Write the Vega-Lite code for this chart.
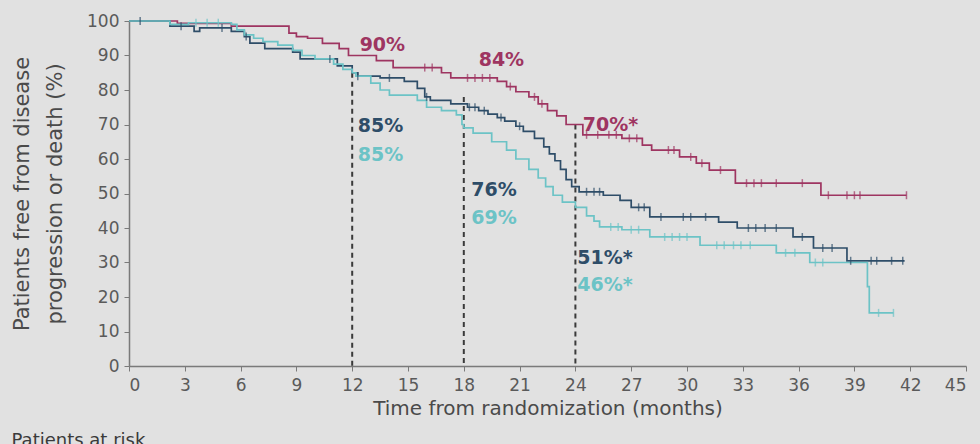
{
  "$schema": "https://vega.github.io/schema/vega-lite/v6.json",
  "autosize": "none",
  "width": 837,
  "height": 345,
  "padding": {"left": 129, "top": 21, "right": 14, "bottom": 78},
  "background": "#e1e1e1",
  "config": {
    "view": {"stroke": null},
    "font": "DejaVu Sans",
    "axis": {"grid": false, "domainColor": "#7a7a7a", "tickColor": "#7a7a7a", "labelColor": "#5a5a5a", "titleColor": "#4a4a4a", "labelFont": "DejaVu Sans", "titleFont": "DejaVu Sans", "titleFontWeight": "normal", "labelFontSize": 17, "titleFontSize": 20, "tickSize": 5, "domainWidth": 1.5, "labelOverlap": false}
  },
  "title": {"text": "Patients at risk", "orient": "bottom", "anchor": "start", "frame": "bounds", "fontSize": 18, "fontWeight": "normal", "color": "#3a3a3a", "offset": 14, "font": "DejaVu Sans"},
  "datasets": {
    "curves": [
      {"g": "A", "t": 0, "s": 100}, {"g": "A", "t": 2.6, "s": 99.3}, {"g": "A", "t": 5.5, "s": 98.5}, {"g": "A", "t": 8.6, "s": 96.5}, {"g": "A", "t": 9.0, "s": 95.5}, {"g": "A", "t": 9.6, "s": 95}, {"g": "A", "t": 10.4, "s": 93.5}, {"g": "A", "t": 11.3, "s": 92}, {"g": "A", "t": 11.8, "s": 90}, {"g": "A", "t": 13.3, "s": 88.5}, {"g": "A", "t": 14.2, "s": 86.5}, {"g": "A", "t": 16.8, "s": 85}, {"g": "A", "t": 17.3, "s": 83.5}, {"g": "A", "t": 19.8, "s": 82.5}, {"g": "A", "t": 20.3, "s": 81}, {"g": "A", "t": 20.8, "s": 79.5}, {"g": "A", "t": 21.5, "s": 78}, {"g": "A", "t": 22.0, "s": 76}, {"g": "A", "t": 22.5, "s": 74}, {"g": "A", "t": 23.0, "s": 72.5}, {"g": "A", "t": 23.5, "s": 70}, {"g": "A", "t": 24.4, "s": 67}, {"g": "A", "t": 26.5, "s": 66}, {"g": "A", "t": 27.6, "s": 64}, {"g": "A", "t": 28.1, "s": 62.6}, {"g": "A", "t": 29.6, "s": 60.6}, {"g": "A", "t": 30.5, "s": 58.8}, {"g": "A", "t": 31.2, "s": 56.8}, {"g": "A", "t": 32.6, "s": 53}, {"g": "A", "t": 37.2, "s": 49.5}, {"g": "A", "t": 41.8, "s": 49.5},
      {"g": "B", "t": 0, "s": 100}, {"g": "B", "t": 2.2, "s": 98.5}, {"g": "B", "t": 3.5, "s": 97}, {"g": "B", "t": 3.8, "s": 98}, {"g": "B", "t": 5.5, "s": 97}, {"g": "B", "t": 6.2, "s": 95.5}, {"g": "B", "t": 6.5, "s": 93.6}, {"g": "B", "t": 7.3, "s": 92}, {"g": "B", "t": 8.8, "s": 91}, {"g": "B", "t": 9.2, "s": 89}, {"g": "B", "t": 11.2, "s": 87}, {"g": "B", "t": 12, "s": 85}, {"g": "B", "t": 12.3, "s": 84}, {"g": "B", "t": 13.5, "s": 83.5}, {"g": "B", "t": 14.8, "s": 82.5}, {"g": "B", "t": 15.5, "s": 80.5}, {"g": "B", "t": 15.9, "s": 78}, {"g": "B", "t": 16.2, "s": 77}, {"g": "B", "t": 17.3, "s": 76}, {"g": "B", "t": 18.2, "s": 75}, {"g": "B", "t": 18.8, "s": 74}, {"g": "B", "t": 19.3, "s": 73}, {"g": "B", "t": 19.8, "s": 72}, {"g": "B", "t": 20.2, "s": 71}, {"g": "B", "t": 20.8, "s": 69.5}, {"g": "B", "t": 21.2, "s": 68}, {"g": "B", "t": 21.8, "s": 66}, {"g": "B", "t": 22.3, "s": 63.5}, {"g": "B", "t": 22.6, "s": 61.5}, {"g": "B", "t": 22.9, "s": 59.5}, {"g": "B", "t": 23.2, "s": 57}, {"g": "B", "t": 23.5, "s": 54}, {"g": "B", "t": 23.8, "s": 52}, {"g": "B", "t": 24.2, "s": 50.5}, {"g": "B", "t": 25.5, "s": 49.5}, {"g": "B", "t": 26.4, "s": 48}, {"g": "B", "t": 27.0, "s": 46}, {"g": "B", "t": 28.0, "s": 43.2}, {"g": "B", "t": 31.7, "s": 41.7}, {"g": "B", "t": 32.7, "s": 40}, {"g": "B", "t": 35.7, "s": 37.4}, {"g": "B", "t": 36.8, "s": 34.2}, {"g": "B", "t": 38.6, "s": 30.5}, {"g": "B", "t": 41.7, "s": 30.5},
      {"g": "C", "t": 0, "s": 100}, {"g": "C", "t": 2.2, "s": 99}, {"g": "C", "t": 3.2, "s": 99.5}, {"g": "C", "t": 5.5, "s": 99}, {"g": "C", "t": 5.8, "s": 97.4}, {"g": "C", "t": 6.2, "s": 96}, {"g": "C", "t": 6.7, "s": 95}, {"g": "C", "t": 7.2, "s": 94}, {"g": "C", "t": 8.0, "s": 93}, {"g": "C", "t": 8.8, "s": 91.5}, {"g": "C", "t": 9.3, "s": 90}, {"g": "C", "t": 10.0, "s": 89}, {"g": "C", "t": 11.0, "s": 87.5}, {"g": "C", "t": 11.5, "s": 86}, {"g": "C", "t": 12.0, "s": 85}, {"g": "C", "t": 12.2, "s": 84}, {"g": "C", "t": 13.0, "s": 82}, {"g": "C", "t": 13.5, "s": 80}, {"g": "C", "t": 14.0, "s": 78.5}, {"g": "C", "t": 15.5, "s": 77}, {"g": "C", "t": 16.0, "s": 75}, {"g": "C", "t": 16.8, "s": 74}, {"g": "C", "t": 17.6, "s": 72.8}, {"g": "C", "t": 17.9, "s": 70}, {"g": "C", "t": 18.0, "s": 69}, {"g": "C", "t": 18.5, "s": 67.5}, {"g": "C", "t": 19.5, "s": 65}, {"g": "C", "t": 20.3, "s": 62.6}, {"g": "C", "t": 20.8, "s": 60}, {"g": "C", "t": 21.5, "s": 57}, {"g": "C", "t": 22.0, "s": 54.5}, {"g": "C", "t": 22.4, "s": 52}, {"g": "C", "t": 22.8, "s": 49.5}, {"g": "C", "t": 23.3, "s": 47.5}, {"g": "C", "t": 24.0, "s": 46}, {"g": "C", "t": 24.6, "s": 43.5}, {"g": "C", "t": 25.0, "s": 42}, {"g": "C", "t": 25.3, "s": 40.3}, {"g": "C", "t": 26.5, "s": 39.5}, {"g": "C", "t": 28.0, "s": 37.4}, {"g": "C", "t": 30.7, "s": 35}, {"g": "C", "t": 34.8, "s": 32.8}, {"g": "C", "t": 36.6, "s": 30}, {"g": "C", "t": 39.7, "s": 23}, {"g": "C", "t": 39.8, "s": 15.4}, {"g": "C", "t": 41.1, "s": 15.4}
    ],
    "censor": [
      {"g": "A", "t": 15.9, "s": 86.5}, {"g": "A", "t": 16.3, "s": 86.5}, {"g": "A", "t": 18.2, "s": 83.5}, {"g": "A", "t": 18.6, "s": 83.5}, {"g": "A", "t": 19.0, "s": 83.5}, {"g": "A", "t": 19.4, "s": 83.5}, {"g": "A", "t": 20.5, "s": 81}, {"g": "A", "t": 21.8, "s": 78}, {"g": "A", "t": 22.2, "s": 76}, {"g": "A", "t": 24.6, "s": 67}, {"g": "A", "t": 25.2, "s": 67}, {"g": "A", "t": 25.8, "s": 67}, {"g": "A", "t": 26.2, "s": 67}, {"g": "A", "t": 26.9, "s": 66}, {"g": "A", "t": 27.3, "s": 66}, {"g": "A", "t": 29.0, "s": 62.6}, {"g": "A", "t": 29.3, "s": 62.6}, {"g": "A", "t": 30.2, "s": 60.6}, {"g": "A", "t": 30.8, "s": 58.8}, {"g": "A", "t": 31.8, "s": 56.8}, {"g": "A", "t": 33.2, "s": 53}, {"g": "A", "t": 33.6, "s": 53}, {"g": "A", "t": 34.0, "s": 53}, {"g": "A", "t": 34.8, "s": 53}, {"g": "A", "t": 36.2, "s": 53}, {"g": "A", "t": 37.6, "s": 49.5}, {"g": "A", "t": 38.6, "s": 49.5}, {"g": "A", "t": 39.0, "s": 49.5}, {"g": "A", "t": 39.3, "s": 49.5}, {"g": "A", "t": 41.8, "s": 49.5},
      {"g": "B", "t": 0.6, "s": 100}, {"g": "B", "t": 2.8, "s": 98.5}, {"g": "B", "t": 5.0, "s": 98}, {"g": "B", "t": 6.3, "s": 95.5}, {"g": "B", "t": 10.8, "s": 89}, {"g": "B", "t": 12.3, "s": 84}, {"g": "B", "t": 14.0, "s": 83.5}, {"g": "B", "t": 16.0, "s": 78}, {"g": "B", "t": 18.3, "s": 75}, {"g": "B", "t": 18.6, "s": 75}, {"g": "B", "t": 19.1, "s": 74}, {"g": "B", "t": 20.0, "s": 72}, {"g": "B", "t": 21.0, "s": 69.5}, {"g": "B", "t": 24.6, "s": 50.5}, {"g": "B", "t": 25.0, "s": 50.5}, {"g": "B", "t": 25.3, "s": 50.5}, {"g": "B", "t": 27.4, "s": 46}, {"g": "B", "t": 27.7, "s": 46}, {"g": "B", "t": 28.6, "s": 43.2}, {"g": "B", "t": 29.8, "s": 43.2}, {"g": "B", "t": 30.2, "s": 43.2}, {"g": "B", "t": 31.0, "s": 43.2}, {"g": "B", "t": 33.3, "s": 40}, {"g": "B", "t": 33.7, "s": 40}, {"g": "B", "t": 34.2, "s": 40}, {"g": "B", "t": 34.8, "s": 40}, {"g": "B", "t": 36.2, "s": 37.4}, {"g": "B", "t": 37.3, "s": 34.2}, {"g": "B", "t": 37.8, "s": 34.2}, {"g": "B", "t": 38.8, "s": 30.5}, {"g": "B", "t": 39.9, "s": 30.5}, {"g": "B", "t": 40.2, "s": 30.5}, {"g": "B", "t": 41.0, "s": 30.5}, {"g": "B", "t": 41.6, "s": 30.5},
      {"g": "C", "t": 3.6, "s": 99.5}, {"g": "C", "t": 4.2, "s": 99.5}, {"g": "C", "t": 4.8, "s": 99.5}, {"g": "C", "t": 25.9, "s": 40.3}, {"g": "C", "t": 26.3, "s": 40.3}, {"g": "C", "t": 27.0, "s": 39.5}, {"g": "C", "t": 27.4, "s": 39.5}, {"g": "C", "t": 28.8, "s": 37.4}, {"g": "C", "t": 29.2, "s": 37.4}, {"g": "C", "t": 29.6, "s": 37.4}, {"g": "C", "t": 30.0, "s": 37.4}, {"g": "C", "t": 31.6, "s": 35}, {"g": "C", "t": 32.0, "s": 35}, {"g": "C", "t": 32.5, "s": 35}, {"g": "C", "t": 32.9, "s": 35}, {"g": "C", "t": 33.4, "s": 35}, {"g": "C", "t": 35.3, "s": 32.8}, {"g": "C", "t": 35.8, "s": 32.8}, {"g": "C", "t": 36.9, "s": 30}, {"g": "C", "t": 37.3, "s": 30}, {"g": "C", "t": 40.3, "s": 15.4}, {"g": "C", "t": 41.1, "s": 15.4}
    ],
    "rules": [
      {"t": 12, "top": 85}, {"t": 18, "top": 78}, {"t": 24, "top": 70}
    ],
    "labels": [
      {"g": "A", "t": 12.4, "s": 93, "label": "90%"},
      {"g": "A", "t": 18.8, "s": 88.7, "label": "84%"},
      {"g": "A", "t": 24.4, "s": 69.9, "label": "70%*"},
      {"g": "B", "t": 12.3, "s": 69.6, "label": "85%"},
      {"g": "C", "t": 12.3, "s": 61.2, "label": "85%"},
      {"g": "B", "t": 18.4, "s": 51, "label": "76%"},
      {"g": "C", "t": 18.4, "s": 42.9, "label": "69%"},
      {"g": "B", "t": 24.1, "s": 31.3, "label": "51%*"},
      {"g": "C", "t": 24.1, "s": 23.5, "label": "46%*"}
    ]
  },
  "encoding": {
    "x": {"field": "t", "type": "quantitative", "scale": {"domain": [0, 45], "nice": false}, "axis": {"values": [0, 3, 6, 9, 12, 15, 18, 21, 24, 27, 30, 33, 36, 39, 42, 45], "title": "Time from randomization (months)", "titlePadding": 5, "labelPadding": 6}}
  },
  "layer": [
    {
      "data": {"name": "rules"},
      "mark": {"type": "rule", "color": "#3a3a3a", "strokeDash": [5, 4], "strokeWidth": 2},
      "encoding": {
        "y": {"field": "top", "type": "quantitative", "scale": {"domain": [0, 100], "nice": false}, "axis": {"values": [0, 10, 20, 30, 40, 50, 60, 70, 80, 90, 100], "tickCount": 11, "title": ["Patients free from disease", "progression or death (%)"], "titleFontSize": 21, "titleLineHeight": 33, "titlePadding": 21, "labelPadding": 5}},
        "y2": {"datum": 0}
      }
    },
    {
      "data": {"name": "curves"},
      "mark": {"type": "line", "interpolate": "step-after", "strokeWidth": 1.7},
      "encoding": {
        "y": {"field": "s", "type": "quantitative"},
        "color": {"field": "g", "type": "nominal", "scale": {"domain": ["A", "B", "C"], "range": ["#9e3561", "#2e4d68", "#6cc3c6"]}, "legend": null},
        "order": {"field": "t", "type": "quantitative"}
      }
    },
    {
      "data": {"name": "censor"},
      "mark": {"type": "tick", "orient": "vertical", "size": 8, "thickness": 1.5},
      "encoding": {
        "y": {"field": "s", "type": "quantitative"},
        "color": {"field": "g", "type": "nominal", "legend": null}
      }
    },
    {
      "data": {"name": "labels"},
      "mark": {"type": "text", "align": "left", "baseline": "middle", "fontSize": 19, "fontWeight": "bold", "font": "DejaVu Sans"},
      "encoding": {
        "y": {"field": "s", "type": "quantitative"},
        "text": {"field": "label"},
        "color": {"field": "g", "type": "nominal", "legend": null}
      }
    }
  ]
}
